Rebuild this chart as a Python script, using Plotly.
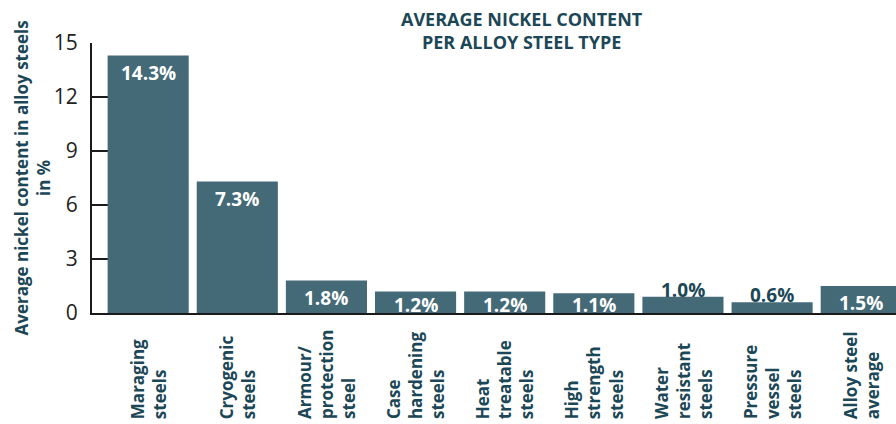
import plotly.graph_objects as go

categories = ["Maraging<br>steels", "Cryogenic<br>steels", "Armour/<br>protection<br>steel",
              "Case<br>hardening<br>steels", "Heat<br>treatable<br>steels", "High<br>strength<br>steels",
              "Water<br>resistant<br>steels", "Pressure<br>vessel<br>steels", "Alloy steel<br>average"]
values = [14.3, 7.3, 1.8, 1.2, 1.2, 1.1, 0.9, 0.6, 1.5]
value_labels = ["14.3%", "7.3%", "1.8%", "1.2%", "1.2%", "1.1%", "1.0%", "0.6%", "1.5%"]
y_ticks = [0, 3, 6, 9, 12, 15]

W, H = 896, 424
M_L, M_R, M_T, M_B = 92, 0, 43, 111
plot_h = H - M_T - M_B
y_max = 15
px_per_unit = plot_h / y_max

BAR = "#446a78"
DARK = "#1c4756"
FONT = "Open Sans"

x_idx = list(range(len(categories)))

fig = go.Figure()
fig.add_trace(go.Bar(x=x_idx, y=values, marker=dict(color=BAR, line=dict(width=0)),
                     hoverinfo="skip"))

ann = []
for i, (v, lab) in enumerate(zip(values, value_labels)):
    if v >= 1.0:
        shift = -min(17, v * px_per_unit - 8)
        col = "white"
    else:
        shift = 7
        col = DARK
    ann.append(dict(x=i, y=v, xref="x", yref="y", text=f"<b>{lab}</b>", showarrow=False,
                    yanchor="middle", yshift=shift,
                    font=dict(family=FONT, size=19, color=col)))

label_bottom_px = 421
for i, c in enumerate(categories):
    ann.append(dict(x=i, y=-(label_bottom_px - (H - M_B)) / plot_h, xref="x", yref="paper",
                    text=f"<b>{c}</b>", showarrow=False, textangle=-90, align="left",
                    xanchor="center", yanchor="bottom",
                    font=dict(family=FONT, size=17, color=DARK)))

# title
ann.append(dict(x=(522 - M_L) / (W - M_L - M_R), y=(H - M_B - 31) / plot_h, xref="paper", yref="paper",
                text="<b>AVERAGE NICKEL CONTENT<br>PER ALLOY STEEL TYPE</b>", showarrow=False,
                xanchor="center", yanchor="middle", align="center",
                font=dict(family=FONT, size=18, color=DARK)))
# y title
ann.append(dict(x=(31.5 - M_L) / (W - M_L - M_R), y=0.5, xref="paper", yref="paper",
                text="<b>Average nickel content in alloy steels<br>in %</b>", showarrow=False,
                textangle=-90, xanchor="center", yanchor="middle", align="center",
                font=dict(family=FONT, size=17, color=DARK)))

fig.update_layout(
    width=W, height=H, margin=dict(l=M_L, r=M_R, t=M_T, b=M_B),
    paper_bgcolor="white", plot_bgcolor="white",
    bargap=0.09, showlegend=False, annotations=ann,
    xaxis=dict(range=[-0.63, 8.39], showticklabels=False, ticks="", showgrid=False,
               zeroline=False, showline=True, linecolor="#1a1a1a", linewidth=2,
               fixedrange=True, layer="above traces"),
    yaxis=dict(range=[0, y_max], tickvals=y_ticks, ticks="inside", ticklen=20, tickwidth=2,
               tickcolor="#1a1a1a", showgrid=False, zeroline=False, showline=True,
               linecolor="#1a1a1a", linewidth=2, layer="below traces",
               ticklabelstandoff=8,
               tickfont=dict(family=FONT, size=21, color="#222222"), fixedrange=True),
)

fig.write_html("out.html", config={"displayModeBar": False})
